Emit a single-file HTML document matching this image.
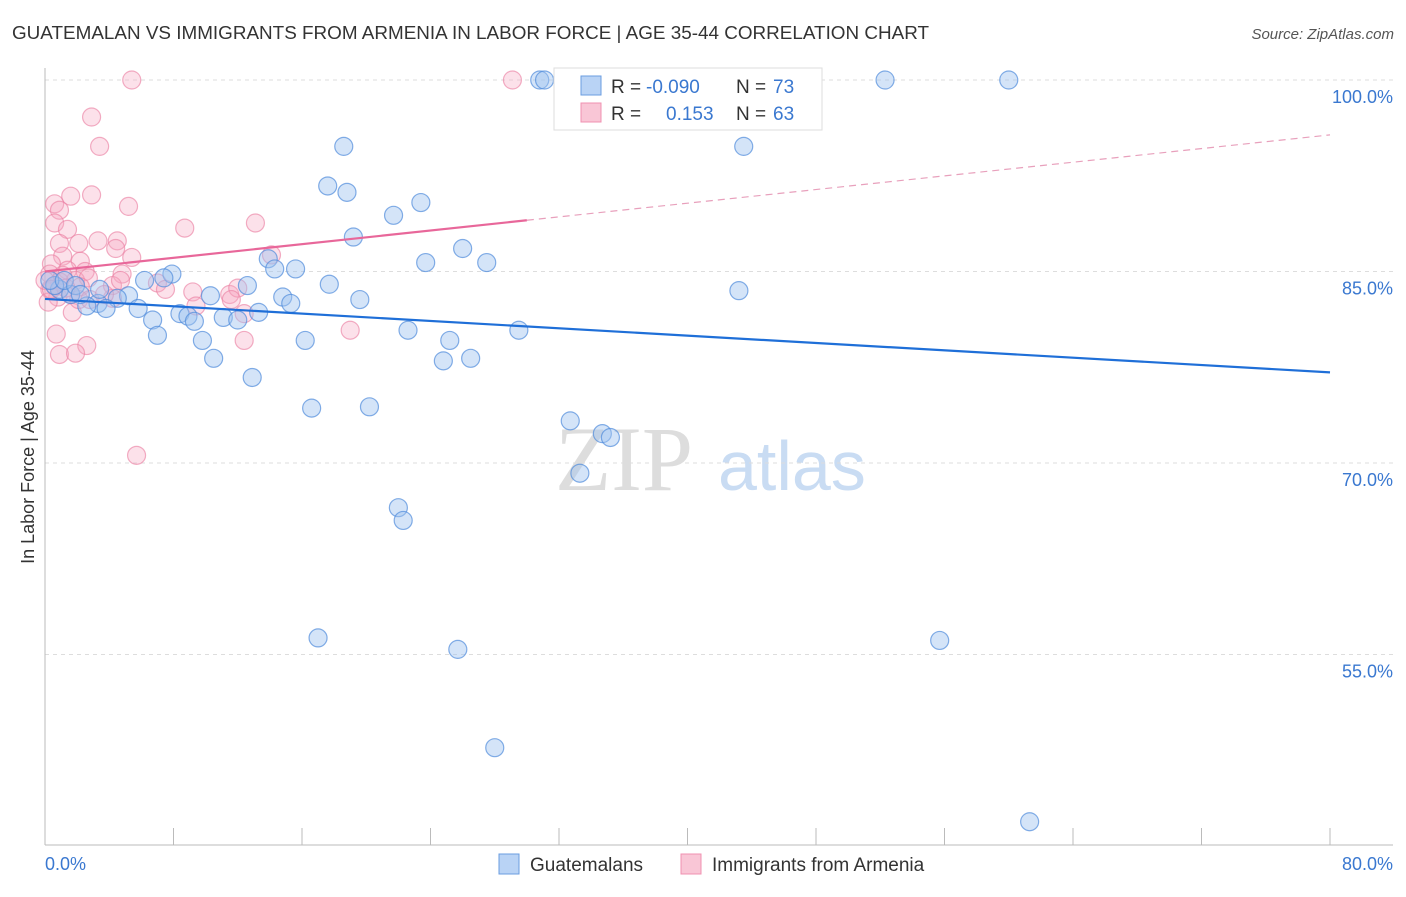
<!DOCTYPE html>
<html><head><meta charset="utf-8"><style>
body{margin:0;background:#fff;font-family:"Liberation Sans",sans-serif}
</style></head><body>
<svg id="c" width="1406" height="892" xmlns="http://www.w3.org/2000/svg" style="font-family:'Liberation Sans',sans-serif">
<text x="12" y="39" font-size="18" fill="#333" textLength="917" lengthAdjust="spacingAndGlyphs">GUATEMALAN VS IMMIGRANTS FROM ARMENIA IN LABOR FORCE | AGE 35-44 CORRELATION CHART</text>
<text x="1394" y="39" font-size="15" fill="#555" text-anchor="end" font-style="italic">Source: ZipAtlas.com</text>
<g><text x="555" y="490" font-size="92" fill="#ddd" font-family="Liberation Serif">ZIP</text><text x="718" y="490" font-size="70" fill="#c9dcf3">atlas</text></g>
<g id="grid"></g><g id="axes"></g><g id="pts"></g><g id="lines"></g>
<text x="34" y="457" font-size="18" fill="#333" text-anchor="middle" transform="rotate(-90 34 457)">In Labor Force | Age 35-44</text>
<text x="45" y="870" font-size="18" fill="#3a78d0">0.0%</text>
<text x="1393" y="870" font-size="18" fill="#3a78d0" text-anchor="end">80.0%</text>
<g>
<rect x="554" y="68" width="268" height="62" fill="#fff" stroke="#ddd"/>
<rect x="581" y="76" width="20" height="19" fill="#b9d3f5" stroke="#6a9de0"/>
<rect x="581" y="103" width="20" height="19" fill="#f9c6d6" stroke="#f090b0"/>
<text x="611" y="93" font-size="19" fill="#333">R = <tspan fill="#3a78d0" x="646">-0.090</tspan><tspan x="736">N = </tspan><tspan fill="#3a78d0" x="773">73</tspan></text>
<text x="611" y="120" font-size="19" fill="#333">R = <tspan fill="#3a78d0" x="666">0.153</tspan><tspan x="736">N = </tspan><tspan fill="#3a78d0" x="773">63</tspan></text>
</g>
<g>
<rect x="499" y="854" width="20" height="20" fill="#b9d3f5" stroke="#6a9de0"/>
<text x="530" y="871" font-size="19" fill="#333">Guatemalans</text>
<rect x="681" y="854" width="20" height="20" fill="#f9c6d6" stroke="#f090b0"/>
<text x="712" y="871" font-size="19" fill="#333">Immigrants from Armenia</text>
</g>
</svg>
<script>
const blueX=[30.8,31.1,38.2,52.3,60.0,18.6,43.5,17.6,18.8,23.4,21.7,19.2,26.0,23.7,27.5,13.9,14.3,15.6,7.9,7.4,6.2,12.6,17.7,10.3,14.8,15.3,19.6,43.2,5.2,4.5,3.3,2.6,3.8,5.8,6.7,8.4,8.9,9.3,11.1,12.0,13.3,7.0,9.8,16.2,22.6,25.2,29.5,10.5,24.8,26.5,12.9,16.6,20.2,32.7,34.7,35.2,33.3,22.0,22.3,17.0,25.7,55.7,28.0,61.3,0.9,1.6,0.6,0.3,1.2,1.9,3.4,2.2];
const blueY=[100,100,100,100,100,94.8,94.8,91.7,91.2,90.4,89.4,87.7,86.8,85.7,85.7,86.0,85.2,85.2,84.8,84.5,84.3,83.9,84.0,83.1,83.0,82.5,82.8,83.5,83.1,82.9,82.5,82.3,82.1,82.1,81.2,81.7,81.5,81.1,81.4,81.2,81.8,80.0,79.6,79.6,80.4,79.6,80.4,78.2,78.0,78.2,76.7,74.3,74.4,73.3,72.3,72.0,69.2,66.5,65.5,56.3,55.4,56.1,47.7,41.9,83.6,83.2,83.9,84.3,84.3,83.9,83.6,83.2];
const pinkX=[5.4,29.1,2.9,3.4,1.6,2.9,0.6,5.2,0.9,0.6,1.4,8.7,13.1,0.9,3.3,2.1,4.5,4.4,5.4,1.1,0.4,2.2,14.1,0.3,1.4,2.5,4.8,0.9,1.9,2.7,0.3,0.8,1.6,2.2,4.2,4.7,7.0,9.2,11.5,12.0,11.6,9.4,12.4,4.2,0.2,1.7,0.7,2.6,0.9,1.9,12.4,19.0,5.7,0.6,1.1,0,0.4,1.3,2.1,2.8,3.7,7.5];
const pinkY=[100,100,97.1,94.8,90.9,91.0,90.3,90.1,89.8,88.8,88.3,88.4,88.8,87.2,87.4,87.2,87.4,86.8,86.1,86.2,85.6,85.8,86.3,84.8,85.1,85.0,84.8,84.2,84.3,84.5,83.6,83.0,83.2,83.8,83.9,84.3,84.1,83.4,83.2,83.7,82.8,82.3,81.7,82.9,82.6,81.8,80.1,79.2,78.5,78.6,79.6,80.4,70.6,83.9,84.7,84.3,83.6,83.7,82.8,82.8,83.2,83.6];
const yTicks=[100,85,70,55];
const blueTrend=[82.85,77.1];
const pinkTrend=[85.0,95.7];
const pinkSolidEnd=30;
const NS='http://www.w3.org/2000/svg';
const sx=v=>45+v*1285/80, sy=v=>80+(100-v)*191.5/15;
function mk(p,t,a){const e=document.createElementNS(NS,t);for(const k in a)e.setAttribute(k,a[k]);document.getElementById(p).appendChild(e);return e;}
yTicks.forEach(t=>{
 const l=mk('grid','line',{x1:45,x2:1393,y1:sy(t),y2:sy(t),stroke:'#ddd','stroke-dasharray':'4,4'});
 
 
 const tx=mk('grid','text',{x:1393,y:sy(t)+23,'font-size':18,fill:'#3a78d0','text-anchor':'end'});
 tx.textContent=t.toFixed(1)+'%';
 
 
});
const ax=mk('axes','line',{x1:45,x2:45,y1:68,y2:845,stroke:'#bbb'});


const bx=mk('axes','line',{x1:45,x2:1393,y1:845,y2:845,stroke:'#bbb'});


for(let i=0;i<=10;i++){const t=mk('axes','line',{x1:sx(i*8),x2:sx(i*8),y1:828,y2:845,stroke:'#bbb'});
 
 }
function pts(X,Y,f,s,n){X.forEach((x,i)=>{const c=mk('pts','circle',{cx:sx(x),cy:sy(Y[i]),r:9,fill:f,stroke:s,'stroke-width':1.2});
 
 });}
pts(pinkX,pinkY,'rgba(246,170,196,0.35)','rgba(235,130,165,0.65)','armenia-point');
pts(blueX,blueY,'rgba(160,196,240,0.45)','rgba(80,140,220,0.7)','guatemalan-point');
const bl=mk('lines','line',{x1:sx(0),y1:sy(blueTrend[0]),x2:sx(80),y2:sy(blueTrend[1]),stroke:'#1f6fd8','stroke-width':2.2});


const pe=pinkTrend[0]+(pinkTrend[1]-pinkTrend[0])*pinkSolidEnd/80;
const pl=mk('lines','line',{x1:sx(0),y1:sy(pinkTrend[0]),x2:sx(pinkSolidEnd),y2:sy(pe),stroke:'#e8679a','stroke-width':2.2});


const pd=mk('lines','line',{x1:sx(pinkSolidEnd),y1:sy(pe),x2:sx(80),y2:sy(pinkTrend[1]),stroke:'#e8a0bc','stroke-width':1.2,'stroke-dasharray':'7,5'});


</script>
</body></html>
